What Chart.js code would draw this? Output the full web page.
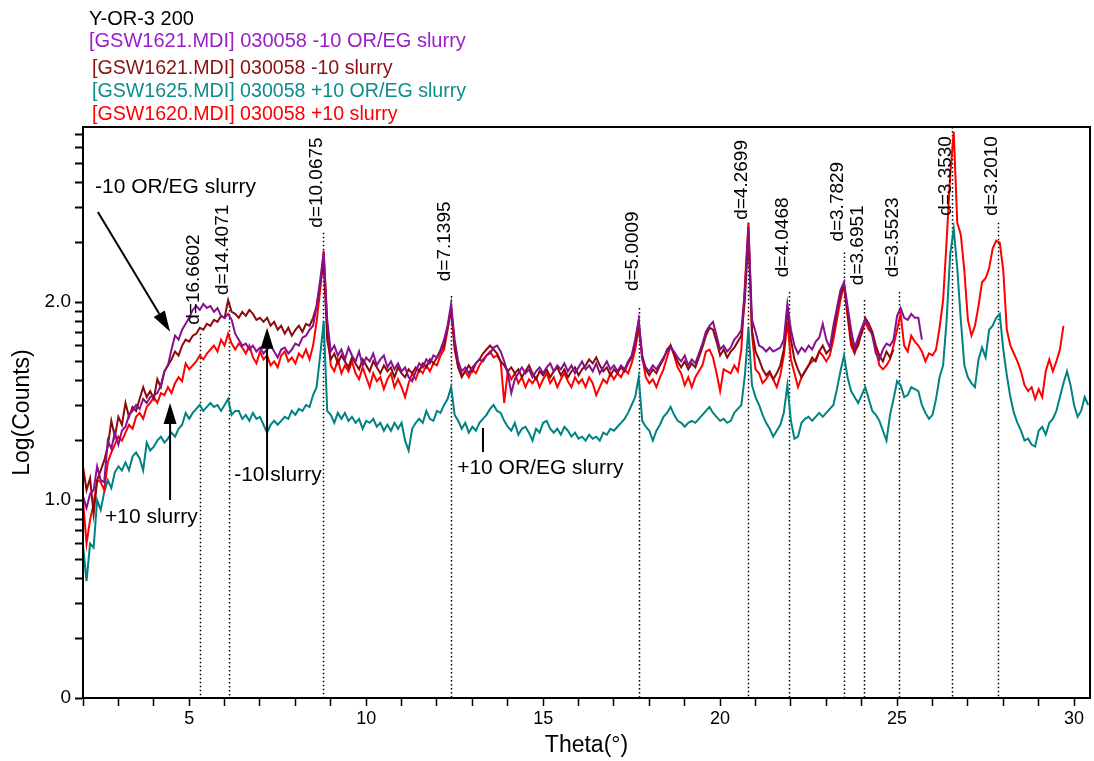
<!DOCTYPE html>
<html>
<head>
<meta charset="utf-8">
<script src="https://cdn.jsdelivr.net/npm/chart.js@4.4.0/dist/chart.umd.min.js"></script>
<style>
  html, body { margin: 0; padding: 0; background: #fff; }
  #wrap { position: relative; width: 1094px; height: 761px; }
  #chart { position: absolute; left: 0; top: 0; }
  .hdr { position: absolute; font-family: "Liberation Sans", Arial, sans-serif; font-size: 19.6px; line-height: 22px; white-space: nowrap; }
</style>
</head>
<body>
<div id="wrap">
  <canvas id="chart" width="1094" height="761"></canvas>
  <div class="hdr" style="left:89px; top:7px; color:#000; font-size:20px;">Y-OR-3 200</div>
  <div class="hdr" style="left:89px; top:29px; color:#9b20c8; font-size:20px;">[GSW1621.MDI] 030058 -10 OR/EG slurry</div>
  <div class="hdr" style="left:92px; top:56px; color:#8b1010;">[GSW1621.MDI] 030058 -10 slurry</div>
  <div class="hdr" style="left:92px; top:79px; color:#108c8c;">[GSW1625.MDI] 030058 +10 OR/EG slurry</div>
  <div class="hdr" style="left:92px; top:102px; color:#ff0000;">[GSW1620.MDI] 030058 +10 slurry</div>
</div>
<script>
// scans are sampled every 0.1 degree starting at 2.0
const THETA_START = 2.0;
const THETA_STEP = 0.1;

// Log(Counts), one value per step
const minus10OrEg = [
  1.02,0.96,1.03,1.05,1.17,1.10,1.09,1.30,1.26,1.34,
  1.28,1.35,1.37,1.43,1.45,1.48,1.46,1.51,1.49,1.52,
  1.53,1.54,1.58,1.65,1.68,1.76,1.83,1.81,1.86,1.89,
  1.92,1.96,1.98,1.96,1.99,1.97,1.98,1.95,1.97,1.93,
  1.92,1.94,1.91,1.84,1.81,1.78,1.79,1.76,1.78,1.75,
  1.77,1.74,1.76,1.78,1.75,1.72,1.76,1.77,1.74,1.76,
  1.79,1.78,1.82,1.83,1.86,1.88,1.98,2.11,2.25,1.91,
  1.75,1.78,1.73,1.76,1.71,1.77,1.73,1.70,1.75,1.68,
  1.72,1.70,1.74,1.68,1.71,1.73,1.67,1.70,1.66,1.69,
  1.65,1.67,1.62,1.60,1.65,1.69,1.67,1.71,1.69,1.73,
  1.72,1.76,1.81,1.88,1.99,1.81,1.70,1.65,1.67,1.64,
  1.67,1.69,1.71,1.70,1.73,1.74,1.77,1.78,1.75,1.70,
  1.64,1.54,1.61,1.64,1.67,1.64,1.66,1.62,1.65,1.67,
  1.64,1.67,1.69,1.65,1.68,1.66,1.69,1.65,1.68,1.64,
  1.67,1.70,1.66,1.68,1.65,1.69,1.64,1.67,1.70,1.66,
  1.68,1.65,1.68,1.66,1.70,1.73,1.81,1.91,1.71,1.67,
  1.65,1.68,1.66,1.69,1.72,1.75,1.77,1.75,1.72,1.70,
  1.73,1.68,1.71,1.69,1.74,1.79,1.85,1.88,1.90,1.83,
  1.76,1.78,1.75,1.77,1.81,1.83,1.86,2.06,2.38,1.91,
  1.85,1.78,1.77,1.75,1.77,1.75,1.76,1.77,1.81,1.99,
  1.86,1.78,1.74,1.77,1.75,1.78,1.76,1.80,1.82,1.89,
  1.81,1.77,1.88,1.97,2.06,2.10,1.98,1.86,1.77,1.82,
  1.87,1.91,1.88,1.83,1.74,1.71,1.76,1.79,1.78,1.81,
  1.93,1.97,1.92,1.91,1.94,1.92,1.92,1.81
];

const minus10Slurry = [
  1.17,1.05,1.11,0.93,1.10,1.15,1.20,1.27,1.40,1.32,
  1.42,1.38,1.49,1.42,1.47,1.45,1.51,1.57,1.52,1.55,
  1.51,1.61,1.57,1.65,1.68,1.71,1.75,1.73,1.78,1.81,
  1.80,1.83,1.84,1.87,1.86,1.89,1.88,1.91,1.90,1.93,
  1.92,2.01,1.95,1.94,1.92,1.95,1.93,1.96,1.94,1.91,
  1.92,1.90,1.92,1.88,1.90,1.86,1.88,1.84,1.87,1.83,
  1.86,1.88,1.85,1.89,1.88,1.92,1.98,2.09,2.20,1.81,
  1.71,1.74,1.69,1.73,1.70,1.67,1.72,1.69,1.66,1.71,
  1.68,1.65,1.70,1.67,1.64,1.68,1.65,1.67,1.62,1.67,
  1.64,1.62,1.66,1.64,1.67,1.65,1.69,1.67,1.71,1.69,
  1.72,1.75,1.78,1.87,1.96,1.78,1.67,1.62,1.65,1.68,
  1.65,1.69,1.71,1.74,1.76,1.78,1.76,1.74,1.70,1.68,
  1.65,1.67,1.64,1.66,1.62,1.65,1.68,1.64,1.61,1.65,
  1.63,1.66,1.62,1.65,1.67,1.63,1.66,1.62,1.65,1.67,
  1.63,1.66,1.68,1.71,1.69,1.72,1.68,1.65,1.67,1.63,
  1.66,1.64,1.67,1.65,1.69,1.72,1.79,1.90,1.73,1.66,
  1.63,1.66,1.64,1.68,1.71,1.76,1.78,1.74,1.70,1.67,
  1.70,1.66,1.69,1.67,1.72,1.77,1.83,1.87,1.86,1.80,
  1.73,1.76,1.72,1.75,1.77,1.80,1.83,2.01,2.34,1.86,
  1.75,1.71,1.66,1.63,1.65,1.61,1.64,1.68,1.76,1.96,
  1.81,1.71,1.66,1.62,1.65,1.68,1.72,1.70,1.75,1.78,
  1.74,1.76,1.85,1.95,2.04,2.08,1.95,1.81,1.75,1.78,
  1.85,1.92,1.89,1.85,1.78,1.73,1.70,1.75,1.72,1.76
];

const plus10OrEg = [
  0.77,0.59,0.78,0.76,1.00,0.95,1.04,1.10,1.06,1.14,
  1.17,1.15,1.19,1.15,1.22,1.24,1.21,1.15,1.29,1.25,
  1.27,1.30,1.32,1.29,1.31,1.34,1.32,1.36,1.38,1.44,
  1.41,1.44,1.46,1.48,1.45,1.47,1.49,1.47,1.48,1.45,
  1.48,1.51,1.43,1.45,1.45,1.41,1.43,1.40,1.44,1.41,
  1.42,1.38,1.34,1.38,1.40,1.38,1.40,1.42,1.41,1.45,
  1.43,1.46,1.45,1.48,1.47,1.53,1.57,1.73,1.90,1.45,
  1.43,1.39,1.44,1.41,1.44,1.40,1.42,1.39,1.41,1.36,
  1.40,1.39,1.41,1.37,1.39,1.35,1.38,1.35,1.39,1.36,
  1.39,1.30,1.25,1.36,1.39,1.41,1.39,1.45,1.41,1.40,
  1.45,1.44,1.48,1.51,1.57,1.43,1.40,1.36,1.39,1.34,
  1.37,1.35,1.39,1.41,1.43,1.46,1.48,1.45,1.44,1.40,
  1.37,1.35,1.39,1.33,1.36,1.37,1.34,1.30,1.36,1.34,
  1.39,1.40,1.36,1.34,1.36,1.33,1.37,1.35,1.32,1.34,
  1.31,1.32,1.30,1.33,1.31,1.32,1.30,1.34,1.33,1.36,
  1.35,1.37,1.39,1.41,1.44,1.48,1.52,1.62,1.40,1.37,
  1.35,1.30,1.35,1.38,1.42,1.44,1.47,1.43,1.40,1.39,
  1.37,1.39,1.40,1.39,1.41,1.43,1.45,1.47,1.44,1.42,
  1.40,1.41,1.39,1.40,1.44,1.46,1.48,1.63,1.87,1.58,
  1.52,1.48,1.43,1.39,1.36,1.32,1.35,1.38,1.44,1.58,
  1.40,1.31,1.32,1.39,1.41,1.42,1.40,1.42,1.44,1.42,
  1.44,1.46,1.48,1.56,1.65,1.73,1.62,1.55,1.52,1.49,
  1.53,1.57,1.51,1.45,1.43,1.40,1.35,1.30,1.43,1.51,
  1.60,1.58,1.52,1.53,1.57,1.56,1.55,1.48,1.44,1.41,
  1.43,1.51,1.62,1.68,1.91,2.24,2.37,2.17,1.91,1.68,
  1.62,1.59,1.57,1.71,1.77,1.72,1.86,1.88,1.92,1.94,
  1.76,1.63,1.52,1.44,1.39,1.35,1.30,1.31,1.28,1.27,
  1.35,1.37,1.33,1.39,1.41,1.45,1.52,1.59,1.65,1.58,
  1.48,1.42,1.45,1.52,1.48
];

const plus10Slurry = [
  1.00,0.78,0.90,0.98,1.10,1.09,1.05,1.19,1.24,1.28,
  1.32,1.30,1.34,1.38,1.36,1.42,1.44,1.41,1.47,1.49,
  1.52,1.49,1.54,1.53,1.57,1.54,1.59,1.62,1.60,1.69,
  1.66,1.68,1.70,1.73,1.71,1.74,1.76,1.78,1.75,1.81,
  1.78,1.84,1.79,1.76,1.79,1.77,1.74,1.78,1.72,1.69,
  1.75,1.71,1.73,1.68,1.70,1.67,1.73,1.75,1.70,1.72,
  1.69,1.74,1.72,1.76,1.71,1.78,1.90,2.06,2.26,1.88,
  1.68,1.65,1.71,1.64,1.68,1.65,1.70,1.64,1.61,1.67,
  1.62,1.57,1.64,1.60,1.62,1.56,1.61,1.64,1.57,1.61,
  1.57,1.52,1.59,1.64,1.61,1.66,1.64,1.68,1.65,1.69,
  1.68,1.73,1.76,1.86,1.97,1.76,1.67,1.63,1.65,1.62,
  1.66,1.64,1.68,1.71,1.73,1.75,1.72,1.73,1.70,1.49,
  1.65,1.61,1.64,1.59,1.62,1.57,1.61,1.59,1.62,1.57,
  1.61,1.64,1.59,1.62,1.57,1.61,1.64,1.60,1.57,1.62,
  1.59,1.61,1.57,1.62,1.59,1.53,1.57,1.61,1.59,1.64,
  1.61,1.64,1.62,1.66,1.64,1.69,1.76,1.87,1.72,1.62,
  1.59,1.61,1.57,1.62,1.66,1.72,1.78,1.73,1.67,1.64,
  1.58,1.62,1.57,1.62,1.65,1.68,1.75,1.76,1.72,1.64,
  1.55,1.66,1.65,1.64,1.68,1.65,1.76,2.09,2.40,1.84,
  1.66,1.64,1.59,1.61,1.64,1.61,1.57,1.63,1.73,1.90,
  1.71,1.64,1.57,1.62,1.65,1.68,1.70,1.71,1.75,1.73,
  1.70,1.73,1.81,1.91,2.01,2.09,1.93,1.78,1.74,1.81,
  1.84,1.90,1.86,1.84,1.76,1.68,1.66,1.68,1.71,1.78,
  1.86,1.94,1.78,1.75,1.83,1.80,1.78,1.75,1.70,1.74,
  1.73,1.76,1.87,2.01,2.31,2.64,2.86,2.40,2.34,2.16,
  1.91,1.83,1.88,1.98,2.10,2.12,2.17,2.27,2.31,2.30,
  2.16,1.86,1.78,1.74,1.70,1.65,1.58,1.55,1.57,1.51,
  1.56,1.52,1.65,1.71,1.65,1.70,1.76,1.88
];

// marked reflections
const peakTheta = [5.30, 6.13, 8.78, 12.39, 17.72, 20.79, 21.95, 23.50, 24.07, 25.05, 26.56, 27.85];
const peakLabels = ['d=16.6602', 'd=14.4071', 'd=10.0675', 'd=7.1395', 'd=5.0009', 'd=4.2699',
                    'd=4.0468', 'd=3.7829', 'd=3.6951', 'd=3.5523', 'd=3.3530', 'd=3.2010'];
const peakLabelBase = [1.87, 2.02, 2.36, 2.09, 2.04, 2.40, 2.11, 2.29, 2.07, 2.11, 2.42, 2.42];
const peakLineTop = [1.84, 2.00, 2.35, 2.03, 1.97, 2.40, 2.05, 2.25, 2.01, 2.05, 2.884, 2.40];

// axis
const Y_MAX = 2.884;
const X_MIN = 2;
const X_MAX = 30.45;
const yDecades = [0, 1, 2];
const yDecadeLabels = ['0', '1.0', '2.0'];

// callouts on the plot
const notes = [
  { text: '-10 OR/EG slurry', x: 2.34, y: 2.58, from: [2.42, 2.455], to: [4.46, 1.85], head: true },
  { text: '+10 slurry', x: 2.62, y: 0.914, from: [4.46, 1.00], to: [4.46, 1.49], head: true },
  { text: '-10 slurry', x: 6.27, y: 1.126, from: [7.20, 1.10], to: [7.20, 1.87], head: true },
  { text: '+10 OR/EG slurry', x: 12.57, y: 1.16, from: [13.30, 1.364], to: [13.30, 1.242], head: false }
];

const FONT = '"Liberation Sans", Arial, sans-serif';
Chart.defaults.font.family = FONT;
Chart.defaults.color = '#000';

function toPoints(values) {
  return values.map((v, i) => ({ x: +(THETA_START + i * THETA_STEP).toFixed(2), y: v }));
}

const peakPlugin = {
  id: 'peaks',
  beforeDatasetsDraw(chart) {
    const { ctx, chartArea, scales: { x, y } } = chart;
    ctx.save();
    ctx.strokeStyle = '#000';
    ctx.lineWidth = 1.5;
    ctx.setLineDash([1.5, 2.5]);
    peakTheta.forEach((t, i) => {
      const px = Math.round(x.getPixelForValue(t)) + 0.5;
      ctx.beginPath();
      ctx.moveTo(px, y.getPixelForValue(peakLineTop[i]));
      ctx.lineTo(px, chartArea.bottom);
      ctx.stroke();
    });
    ctx.restore();
  },
  afterDatasetsDraw(chart) {
    const { ctx, scales: { x, y } } = chart;
    ctx.save();
    ctx.fillStyle = '#000';
    ctx.font = '19px ' + FONT;
    ctx.textAlign = 'left';
    ctx.textBaseline = 'alphabetic';
    peakTheta.forEach((t, i) => {
      ctx.save();
      ctx.translate(x.getPixelForValue(t) - 1, y.getPixelForValue(peakLabelBase[i]) - 3);
      ctx.rotate(-Math.PI / 2);
      ctx.fillText(peakLabels[i], 0, 0);
      ctx.restore();
    });
    ctx.restore();
  }
};

const notePlugin = {
  id: 'notes',
  afterDatasetsDraw(chart) {
    const { ctx, scales: { x, y } } = chart;
    ctx.save();
    ctx.fillStyle = '#000';
    ctx.strokeStyle = '#000';
    ctx.lineWidth = 2;
    ctx.font = '21px ' + FONT;
    ctx.textBaseline = 'middle';
    notes.forEach(n => {
      const x0 = x.getPixelForValue(n.from[0]), y0 = y.getPixelForValue(n.from[1]);
      const x1 = x.getPixelForValue(n.to[0]), y1 = y.getPixelForValue(n.to[1]);
      const ang = Math.atan2(y1 - y0, x1 - x0);
      const headLen = n.head ? 21 : 0;
      ctx.beginPath();
      ctx.moveTo(x0, y0);
      ctx.lineTo(x1 - headLen * Math.cos(ang), y1 - headLen * Math.sin(ang));
      ctx.stroke();
      if (n.head) {
        ctx.beginPath();
        ctx.moveTo(x1, y1);
        ctx.lineTo(x1 - headLen * Math.cos(ang) + 6.5 * Math.sin(ang), y1 - headLen * Math.sin(ang) - 6.5 * Math.cos(ang));
        ctx.lineTo(x1 - headLen * Math.cos(ang) - 6.5 * Math.sin(ang), y1 - headLen * Math.sin(ang) + 6.5 * Math.cos(ang));
        ctx.closePath();
        ctx.fill();
      }
      ctx.fillText(n.text, x.getPixelForValue(n.x), y.getPixelForValue(n.y));
    });
    ctx.restore();
  }
};

const framePlugin = {
  id: 'frame',
  afterDraw(chart) {
    const { ctx, chartArea } = chart;
    ctx.save();
    ctx.strokeStyle = '#000';
    ctx.lineWidth = 2;
    ctx.strokeRect(chartArea.left, chartArea.top, chartArea.right - chartArea.left, chartArea.bottom - chartArea.top);
    ctx.restore();
  }
};

const lineStyle = { borderWidth: 2, pointRadius: 0, tension: 0, fill: false };

new Chart(document.getElementById('chart'), {
  type: 'line',
  data: {
    datasets: [
      { label: '-10 OR/EG slurry', data: toPoints(minus10OrEg), borderColor: '#86108e', ...lineStyle },
      { label: '-10 slurry', data: toPoints(minus10Slurry), borderColor: '#8b0a0a', ...lineStyle },
      { label: '+10 slurry', data: toPoints(plus10Slurry), borderColor: '#ff0000', ...lineStyle },
      { label: '+10 OR/EG slurry', data: toPoints(plus10OrEg), borderColor: '#008282', ...lineStyle }
    ]
  },
  options: {
    responsive: false,
    animation: false,
    layout: { padding: { top: 127, right: 4, left: 0, bottom: 0 } },
    plugins: { legend: { display: false }, tooltip: { enabled: false } },
    scales: {
      x: {
        type: 'linear',
        min: X_MIN,
        max: X_MAX,
        afterFit: s => { s.height = 63; },
        afterBuildTicks: s => {
          const t = [];
          for (let v = 2; v <= 30; v++) t.push({ value: v });
          s.ticks = t;
        },
        ticks: {
          autoSkip: false,
          maxRotation: 0,
          padding: 2,
          font: { size: 18 },
          callback: v => (v % 5 === 0 ? String(v) : '')
        },
        grid: { drawOnChartArea: false, drawTicks: true, tickLength: 8, color: '#000', tickWidth: 1.5 },
        border: { display: true, color: '#000', width: 2 },
        title: { display: true, text: 'Theta(°)', font: { size: 23 }, padding: { top: 0, bottom: 2 } }
      },
      y: {
        type: 'linear',
        min: 0,
        max: Y_MAX,
        afterFit: s => { s.width = 83; },
        afterBuildTicks: s => {
          const t = [];
          yDecades.forEach(d => {
            for (let k = 1; k <= 9; k++) {
              const v = d + Math.log10(k);
              if (v <= Y_MAX) t.push({ value: v });
            }
          });
          s.ticks = t;
        },
        ticks: {
          autoSkip: false,
          padding: 4,
          font: { size: 19 },
          callback: v => {
            const i = yDecades.indexOf(v);
            return i >= 0 ? yDecadeLabels[i] : '';
          }
        },
        grid: { drawOnChartArea: false, drawTicks: true, tickLength: 8, color: '#000', tickWidth: 2 },
        border: { display: true, color: '#000', width: 2 },
        title: { display: true, text: 'Log(Counts)', font: { size: 23 }, padding: { top: 9, bottom: 0 } }
      }
    }
  },
  plugins: [peakPlugin, notePlugin, framePlugin]
});
</script>
</body>
</html>
